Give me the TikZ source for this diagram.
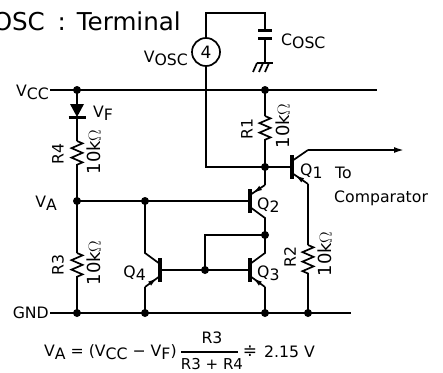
\documentclass[tikz,border=0pt]{standalone}
\usepackage{fontspec}
\setmainfont{DejaVu Sans}
\usetikzlibrary{arrows.meta,decorations.pathmorphing,decorations.markings,calc}
\def\lo#1{\raisebox{-3pt}{#1}}
\begin{document}
\begin{tikzpicture}
    [x=1pt,y=-1pt,
     wire/.style={line width=1.7pt},
     res/.style={line width=1.7pt,decorate,decoration={zigzag,segment length=9.5pt,amplitude=5.5pt}},
     tbar/.style={line width=3.6pt},
     plate/.style={line width=3pt},
     emit/.style={line width=1.7pt,postaction={decorate},decoration={markings,mark=at position 0.85 with {\arrow{Latex[length=10pt,width=5pt]}}}},
     lbl/.style={font=\fontsize{15.7}{17}\selectfont,inner sep=0pt},
     val/.style={font=\fontsize{18}{20}\selectfont,inner sep=0pt,rotate=90},
     rname/.style={lbl,rotate=90}]

    \useasboundingbox (0,0) rectangle (443,372);

    % supply rails
    \coordinate (vccl) at (50,90);
    \coordinate (vccr) at (377,90);
    \coordinate (vcca) at (77,90);
    \coordinate (vccb) at (265,90);
    \coordinate (gndl) at (50,313);
    \coordinate (gndr) at (351,313);
    \coordinate (gnda) at (77,313);
    \coordinate (gndb) at (145,313);
    \coordinate (gndc) at (265,313);
    \coordinate (gndd) at (308,313);
    \draw[wire] (vccl) -- (vccr);
    \draw[wire] (gndl) -- (gndr);

    % pin 4 and the capacitor
    \node[circle,draw,line width=1.7pt,minimum size=28pt,inner sep=0pt,font=\fontsize{17}{19}\selectfont] (pinfour) at (206,52) {4};
    \coordinate (topl) at (206,13);
    \coordinate (topr) at (265,13);
    \coordinate (capa) at (265,30);
    \coordinate (capb) at (265,38);
    \coordinate (gnds) at (265,63);
    \coordinate (basea) at (206,167);
    \coordinate (baseb) at (265,167);
    \draw[wire] (pinfour) -- (topl) -- (topr) -- (capa);
    \draw[wire] (capb) -- (gnds);
    \draw[plate] ($(capa)+(-7,0)$) -- ($(capa)+(7,0)$);
    \draw[plate] ($(capb)+(-7,0)$) -- ($(capb)+(7,0)$);
    \draw[wire] ($(gnds)+(-8,0)$) -- ($(gnds)+(8,0)$);
    \foreach \gx in {-8,-2,4}
        \draw[wire] ($(gnds)+(\gx,0)$) -- ($(gnds)+(\gx-4,9)$);
    \draw[wire] (pinfour) -- (basea) -- (baseb);

    % left divider
    \coordinate (dioa) at (77,104);
    \coordinate (diob) at (77,117);
    \coordinate (rfa) at (77,141);
    \coordinate (rfb) at (77,167);
    \coordinate (va) at (77,201);
    \coordinate (rta) at (77,253);
    \coordinate (rtb) at (77,279);
    \draw[wire] (vcca) -- (dioa);
    \fill ($(dioa)+(-7,0)$) -- ($(dioa)+(7,0)$) -- (diob) -- cycle;
    \draw[plate] ($(diob)+(-8.5,0)$) -- ($(diob)+(8.5,0)$);
    \draw[wire] (diob) -- (rfa);
    \draw[res] (rfa) -- (rfb);
    \draw[wire] (rfb) -- (va) -- (rta);
    \draw[res] (rta) -- (rtb);
    \draw[wire] (rtb) -- (gnda);

    % R1, Q1, R2
    \coordinate (rga) at (265,116);
    \coordinate (rgb) at (265,142);
    \coordinate (qab) at (292,167);
    \coordinate (qac) at (292,161);
    \coordinate (qae) at (292,173);
    \coordinate (qacc) at (308,150);
    \coordinate (qaee) at (308,184);
    \coordinate (outp) at (404,150);
    \coordinate (rha) at (308,245);
    \coordinate (rhb) at (308,277);
    \draw[wire] (vccb) -- (rga);
    \draw[res] (rga) -- (rgb);
    \draw[wire] (rgb) -- (baseb) -- (qab);
    \draw[tbar] ($(qab)+(0,-12)$) -- ($(qab)+(0,12)$);
    \draw[wire] (qac) -- (qacc);
    \draw[wire,-{Latex[length=10pt,width=6pt]}] (qacc) -- (outp);
    \draw[emit] (qaee) -- (qae);
    \draw[wire] (qaee) -- (rha);
    \draw[res] (rha) -- (rhb);
    \draw[wire] (rhb) -- (gndd);

    % Q2
    \coordinate (qbb) at (250,201);
    \coordinate (qbe) at (250,195);
    \coordinate (qbc) at (250,207);
    \coordinate (qbee) at (265,185);
    \coordinate (qbcc) at (265,218);
    \coordinate (link) at (265,235);
    \coordinate (vab) at (145,201);
    \draw[wire] (va) -- (vab) -- (qbb);
    \draw[tbar] ($(qbb)+(0,-12)$) -- ($(qbb)+(0,12)$);
    \draw[emit] (qbee) -- (qbe);
    \draw[wire] (baseb) -- (qbee);
    \draw[wire] (qbc) -- (qbcc) -- (link);

    % Q3
    \coordinate (qcb) at (250,270);
    \coordinate (qcc) at (250,264);
    \coordinate (qce) at (250,276);
    \coordinate (qccc) at (265,253);
    \coordinate (qcee) at (265,287);
    \coordinate (mirr) at (205,270);
    \coordinate (mirt) at (205,235);
    \draw[tbar] ($(qcb)+(0,-12)$) -- ($(qcb)+(0,12)$);
    \draw[wire] (link) -- (qccc) -- (qcc);
    \draw[emit] (qcee) -- (qce);
    \draw[wire] (qcee) -- (gndc);
    \draw[wire] (link) -- (mirt) -- (mirr) -- (qcb);

    % Q4
    \coordinate (qdb) at (160,270);
    \coordinate (qdc) at (160,264);
    \coordinate (qde) at (160,276);
    \coordinate (qdcc) at (145,253);
    \coordinate (qdee) at (145,287);
    \draw[tbar] ($(qdb)+(0,-12)$) -- ($(qdb)+(0,12)$);
    \draw[wire] (mirr) -- (qdb);
    \draw[wire] (vab) -- (qdcc) -- (qdc);
    \draw[emit] (qdee) -- (qde);
    \draw[wire] (qdee) -- (gndb);

    \foreach \dotname in {vcca,vccb,gnda,gndb,gndc,gndd,va,vab,baseb,link,mirr}
        \fill (\dotname) circle (4pt);

    % labels
    \node[anchor=base east,inner sep=0pt,font=\fontsize{24.6}{27}\selectfont] (title) at (181,30) {OSC\hspace{5pt} : \hspace{3pt}Terminal};
    \node[lbl,anchor=east] (lblvosc) at (188,58) {V\lo{OSC}};
    \node[lbl,anchor=west] (lblcosc) at (281,41) {C\lo{OSC}};
    \node[lbl,anchor=east] (lblvcc) at (49,92) {V\lo{CC}};
    \node[lbl,anchor=west] (lblvf) at (93,113) {V\lo{F}};
    \node[lbl,anchor=east] (lblva) at (57,203) {V\lo{A}};
    \node[lbl,anchor=east] (lblgnd) at (49,313) {GND};
    \node[rname] (nameone) at (247,129) {R1};
    \node[rname] (nametwo) at (290,257) {R2};
    \node[rname] (namethree) at (58,265) {R3};
    \node[rname] (namefour) at (58,154) {R4};
    \node[val] (valone) at (283,126) {10k$\Omega$};
    \node[val] (valtwo) at (325,254) {10k$\Omega$};
    \node[val] (valthree) at (94,263) {10k$\Omega$};
    \node[val] (valfour) at (94,152) {10k$\Omega$};
    \node[lbl,anchor=west] (lblqa) at (300,171) {Q\lo{1}};
    \node[lbl,anchor=west] (lblqb) at (257,205) {Q\lo{2}};
    \node[lbl,anchor=west] (lblqc) at (257,273) {Q\lo{3}};
    \node[lbl,anchor=east] (lblqd) at (146,273) {Q\lo{4}};
    \node[lbl,anchor=west] (lblto) at (335,173) {To};
    \node[lbl,anchor=west] (lblcomp) at (334,198) {Comparator};

    % formula
    \coordinate (fraca) at (181,352);
    \coordinate (fracb) at (238,352);
    \draw[line width=1.2pt] (fraca) -- (fracb);
    \node[lbl,anchor=base west] (eqleft) at (44,356) {V\lo{A} = (V\lo{CC} − V\lo{F})};
    \node[lbl,anchor=base] (eqnum) at (212,343) {R3};
    \node[lbl,anchor=base,font=\fontsize{15}{17}\selectfont] (eqden) at (212,369) {R3 + R4};
    \node[inner sep=0pt,font=\fontsize{17}{19}\selectfont] (eqapprox) at (250,351) {≑};
    \node[lbl,anchor=base west] (eqright) at (264,357) {2.15 V};
\end{tikzpicture}
\end{document}
